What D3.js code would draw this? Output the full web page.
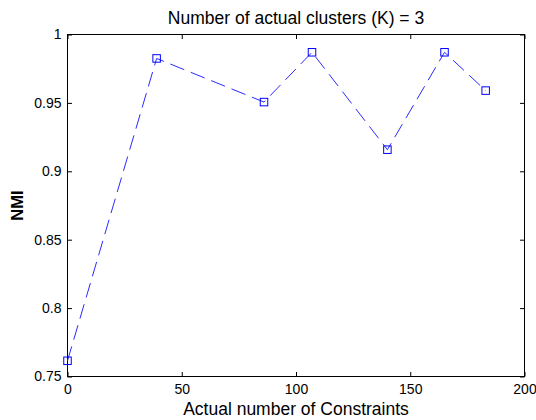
<!DOCTYPE html>
<html>
<head>
<meta charset="utf-8">
<script src="https://cdn.jsdelivr.net/npm/d3@7"></script>
<style>
  body { margin: 0; background: #fff; }
  text { font-family: "Liberation Sans", Arial, sans-serif; fill: #000; }
</style>
</head>
<body>
<svg id="chart"></svg>
<script>
// data
var constraints = [0, 39, 86, 107, 140, 165, 183];
var nmi = [0.7615, 0.9825, 0.9506, 0.987, 0.9158, 0.987, 0.959];
var xTicks = [0, 50, 100, 150, 200];
var yTicks = [0.75, 0.8, 0.85, 0.9, 0.95, 1];

var size = { width: 536, height: 420 };
var margin = { top: 34.5, right: 11.5, bottom: 43.5, left: 67.5 };
var width = size.width - margin.left - margin.right;
var height = size.height - margin.top - margin.bottom;

var svg = d3.select("#chart")
  .attr("width", size.width)
  .attr("height", size.height);

var g = svg.append("g")
  .attr("transform", "translate(" + margin.left + "," + margin.top + ")");

var x = d3.scaleLinear().domain([0, 200]).range([0, width]);
var y = d3.scaleLinear().domain([0.75, 1]).range([height, 0]);

var tick = 4.5;

// bottom axis
var xb = g.append("g")
  .attr("transform", "translate(0," + height + ")")
  .call(d3.axisBottom(x).tickValues(xTicks).tickFormat(d3.format("d"))
    .tickSizeInner(-tick).tickSizeOuter(0).tickPadding(7.6));
// top axis (ticks only)
var xt = g.append("g")
  .call(d3.axisTop(x).tickValues(xTicks).tickFormat("")
    .tickSizeInner(-tick).tickSizeOuter(0));
// left axis
var yl = g.append("g")
  .call(d3.axisLeft(y).tickValues(yTicks).tickFormat(function(d){ return d3.format("")(+d.toFixed(2)); })
    .tickSizeInner(-tick).tickSizeOuter(0).tickPadding(6));
// right axis (ticks only)
var yr = g.append("g")
  .attr("transform", "translate(" + width + ",0)")
  .call(d3.axisRight(y).tickValues(yTicks).tickFormat("")
    .tickSizeInner(-tick).tickSizeOuter(0));

[xb, xt, yl, yr].forEach(function(a){
  a.select(".domain").remove();
  a.selectAll(".tick line").attr("stroke", "#000").attr("stroke-width", 1);
  a.selectAll(".tick text").attr("font-size", 14).attr("fill", "#000")
    .style("font-family", '"Liberation Sans", Arial, sans-serif');
});

// frame
g.append("rect")
  .attr("x", 0).attr("y", 0)
  .attr("width", width).attr("height", height)
  .attr("fill", "none")
  .attr("stroke", "#000")
  .attr("stroke-width", 1);

// dashed line
var pts = constraints.map(function(c, i){ return [c, nmi[i]]; });
var line = d3.line().x(function(d){ return x(d[0]); }).y(function(d){ return y(d[1]); });

g.append("path")
  .datum(pts)
  .attr("d", line)
  .attr("fill", "none")
  .attr("stroke", "#2a2aff")
  .attr("stroke-width", 1)
  .attr("stroke-dasharray", "15,7");

// square markers
var ms = 7.5;
g.selectAll("rect.marker")
  .data(pts)
  .enter().append("rect")
  .attr("class", "marker")
  .attr("x", function(d){ return x(d[0]) - ms / 2; })
  .attr("y", function(d){ return y(d[1]) - ms / 2; })
  .attr("width", ms)
  .attr("height", ms)
  .attr("fill", "none")
  .attr("stroke", "#0000ff")
  .attr("stroke-width", 1);

// title and labels
svg.append("text")
  .attr("x", margin.left + width / 2)
  .attr("y", 24)
  .attr("text-anchor", "middle")
  .attr("font-size", 17.5)
  .text("Number of actual clusters (K) = 3");

svg.append("text")
  .attr("x", margin.left + width / 2)
  .attr("y", 415)
  .attr("text-anchor", "middle")
  .attr("font-size", 17.5)
  .text("Actual number of Constraints");

svg.append("text")
  .attr("transform", "translate(23," + (margin.top + height / 2) + ") rotate(-90)")
  .attr("text-anchor", "middle")
  .attr("font-size", 16.5)
  .attr("font-weight", "bold")
  .text("NMI");
</script>
</body>
</html>
